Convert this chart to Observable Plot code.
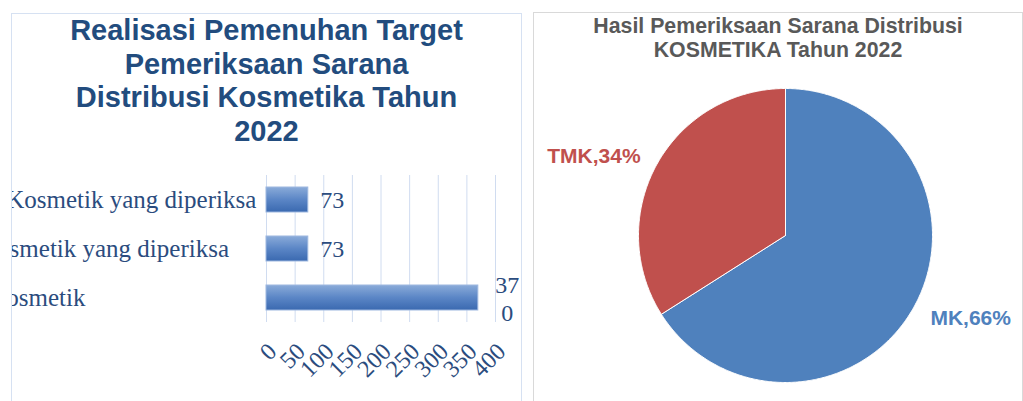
<!DOCTYPE html>
<html><head><meta charset="utf-8">
<script src="https://cdn.jsdelivr.net/npm/d3@7"></script>
<script src="https://cdn.jsdelivr.net/npm/@observablehq/plot@0.6"></script>
<style>
html,body{margin:0;padding:0;background:#fff;width:1023px;height:401px;overflow:hidden;position:relative}
.panel{position:absolute;box-sizing:border-box;overflow:hidden;background:#fff}
#left{left:11px;top:13px;width:511px;height:420px;border:1px solid #d6e1f2}
#right{left:533px;top:12px;width:490px;height:420px;border:1px solid #d9d9d9}
.t1{position:absolute;left:0;right:0;top:0;text-align:center;white-space:nowrap;font:bold 29px/33.7px "Liberation Sans",Arial,sans-serif;color:#224c7e}
.t2{position:absolute;left:0;right:0;top:1px;text-align:center;white-space:nowrap;font:bold 21.3px/24px "Liberation Sans",Arial,sans-serif;color:#595959}
#bar,#pie{position:absolute;left:0}
#bar{top:146px}
#pie{top:57px}
</style></head><body>
<div id="left" class="panel">
  <div class="t1">Realisasi Pemenuhan Target<br>Pemeriksaan Sarana<br>Distribusi Kosmetika Tahun<br>2022</div>
  <div id="bar"></div>
</div>
<div id="right" class="panel">
  <div class="t2">Hasil Pemeriksaan Sarana Distribusi<br>KOSMETIKA Tahun 2022</div>
  <div id="pie"></div>
</div>
<script>
// ---- data ----
const barCategories = [
  "Realisasi Sarana Kosmetik yang diperiksa",
  "Target Sarana Kosmetik yang diperiksa",
  "Jumlah Sarana Kosmetik"
];
const barValues = [73, 73, 370];
const xTicks = [0, 50, 100, 150, 200, 250, 300, 350, 400];

const pieLabels = ["MK", "TMK"];
const pieValues = [66, 34];
const pieColors = ["#4f81bd", "#c0504d"];

// ---- bar chart ----
const barData = barCategories.map((c, i) => ({category: c, value: barValues[i]}));
const labelColor = "#2b4c7e";
const serif = '"Liberation Serif", "Times New Roman", serif';

const bar = Plot.plot({
  width: 509, height: 241,
  marginLeft: 254, marginRight: 26, marginTop: 15, marginBottom: 79,
  style: {fontFamily: serif, background: "transparent", overflow: "hidden"},
  x: {domain: [0, 400], axis: null, label: null},
  y: {domain: barCategories, axis: null, paddingInner: 0.5, paddingOuter: 0.25},
  marks: [
    Plot.gridX(xTicks, {stroke: "#d0dcf0", strokeOpacity: 1, strokeWidth: 1}),
    Plot.barX(barData, {x: "value", y: "category", fill: "url(#barGrad)", stroke: "#9db7df", strokeWidth: 1}),
    Plot.text(barData.filter(d => d.value < 100), {
      x: "value", y: "category", text: d => String(d.value),
      textAnchor: "start", dx: 12, fontSize: 24, fill: labelColor
    }),
    Plot.text(barData.filter(d => d.value >= 100), {
      x: "value", y: "category",
      text: d => { const s = String(d.value); return s.slice(0, 2) + "\n" + s.slice(2); },
      textAnchor: "middle", dx: 29, fontSize: 24, lineHeight: 1.17, fill: labelColor
    }),
    Plot.text(barData, {
      y: "category", frameAnchor: "left", text: "category",
      textAnchor: "start", dx: -431, fontSize: 25, fill: labelColor
    }),
    Plot.axisX(xTicks, {
      tickSize: 0, tickRotate: -45, tickPadding: 25, dx: 6, label: null,
      fontSize: 24, fill: labelColor, tickFormat: d => String(d)
    })
  ]
});
const defs = d3.select(bar).insert("defs", ":first-child");
const grad = defs.append("linearGradient").attr("id", "barGrad")
  .attr("x1", 0).attr("y1", 0).attr("x2", 0).attr("y2", 1);
grad.append("stop").attr("offset", "0%").attr("stop-color", "#8aabd9");
grad.append("stop").attr("offset", "50%").attr("stop-color", "#5b86c6");
grad.append("stop").attr("offset", "100%").attr("stop-color", "#3a69b0");
document.getElementById("bar").appendChild(bar);

// ---- pie chart ----
const total = d3.sum(pieValues);
let acc = 0;
const pieRows = [];
const pieLabelRows = [];
pieLabels.forEach((k, i) => {
  const a0 = acc / total * 2 * Math.PI;
  acc += pieValues[i];
  const a1 = acc / total * 2 * Math.PI;
  pieRows.push({key: k, x: 0, y: 0});
  const n = Math.max(2, Math.ceil((a1 - a0) / (Math.PI / 360)));
  for (let j = 0; j <= n; j++) {
    const a = a0 + (a1 - a0) * j / n;
    pieRows.push({key: k, x: Math.sin(a), y: Math.cos(a)});
  }
  pieRows.push({key: k, x: 0, y: 0});
  const m = (a0 + a1) / 2;
  pieLabelRows.push({key: k, value: pieValues[i], x: 1.125 * Math.sin(m), y: 1.125 * Math.cos(m)});
});

const sans = '"Liberation Sans", Arial, sans-serif';
const pie = Plot.plot({
  width: 488, height: 331,
  marginLeft: 104, marginRight: 90, marginTop: 18, marginBottom: 19,
  x: {domain: [-1, 1], axis: null},
  y: {domain: [-1, 1], axis: null},
  color: {domain: pieLabels, range: pieColors},
  style: {fontFamily: sans, background: "transparent", overflow: "visible"},
  marks: [
    Plot.line(pieRows, {x: "x", y: "y", z: "key", fill: "key", stroke: "white", strokeWidth: 1}),
    Plot.text(pieLabelRows.filter(d => d.x < 0), {
      x: "x", y: "y", text: d => `${d.key},${d.value}%`, fill: "key",
      textAnchor: "end", fontSize: 21, fontWeight: "bold"
    }),
    Plot.text(pieLabelRows.filter(d => d.x >= 0), {
      x: "x", y: "y", dy: 3, text: d => `${d.key},${d.value}%`, fill: "key",
      textAnchor: "start", fontSize: 21, fontWeight: "bold"
    })
  ]
});
document.getElementById("pie").appendChild(pie);
</script>
</body></html>
